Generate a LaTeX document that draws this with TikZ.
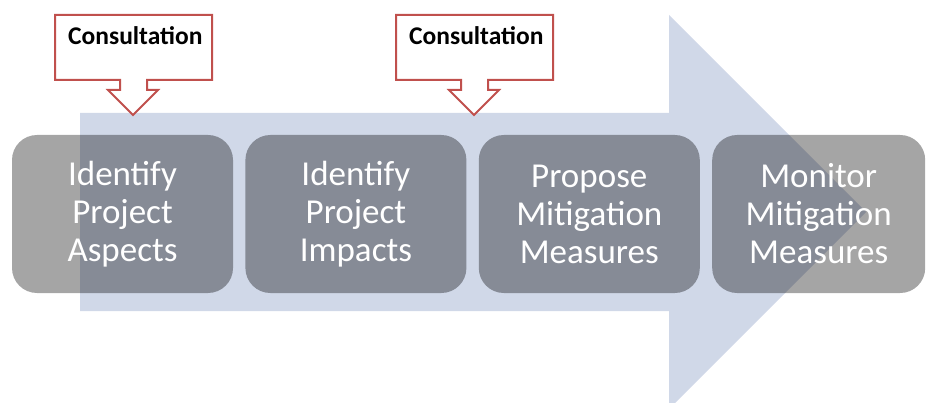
\documentclass[tikz,border=0pt]{standalone}
\usepackage{fontspec}
\setmainfont{Carlito}
\usetikzlibrary{positioning}
\definecolor{arrowblue}{RGB}{208,216,232}
\definecolor{stepgray}{RGB}{165,165,165}
\definecolor{calloutred}{RGB}{192,80,77}
\begin{document}
\begin{tikzpicture}[x=1pt,y=-1pt,
    node distance=12pt,
    stepbox/.style={shape=rectangle, rounded corners=25pt,
      preaction={fill=stepgray, blend mode=multiply},
      text=white, align=center, inner sep=0pt,
      minimum width=221pt, minimum height=158pt,
      font=\fontsize{35}{38}\selectfont},
    callout/.style={draw=calloutred, line width=2pt, fill=white, line join=miter},
    callouttext/.style={anchor=base west, inner sep=0pt,
      font=\bfseries\fontsize{25.5}{30}\selectfont}]
  \useasboundingbox (0,0) rectangle (928,403);
  % big arrow
  \fill[arrowblue] (80,113) -- (669,113) -- (669,15) -- (866,212)
    -- (669,409) -- (669,311) -- (80,311) -- cycle;
  % steps
  \node[stepbox] (aspects) at (122.5,214) {Identify\\Project\\Aspects};
  \node[stepbox, right=of aspects] (impacts) {Identify\\Project\\Impacts};
  \node[stepbox, right=of impacts] (propose) {Propose\\Mitigation\\Measures};
  \node[stepbox, right=of propose, minimum width=213pt] (monitor) {Monitor\\Mitigation\\Measures};
  % consultation callouts
  \foreach \x/\name in {55/consultA, 396/consultB} {
    \draw[callout] (\x,15) -- ++(157,0) -- ++(0,65) -- ++(-65,0) -- ++(0,10)
      -- ++(11,0) -- ++(-25,25) -- ++(-25,-25) -- ++(12,0) -- ++(0,-10)
      -- ++(-65,0) -- cycle;
    \node[callouttext] (\name) at (\x+13,45) {Consultation};
  }
\end{tikzpicture}
\end{document}
